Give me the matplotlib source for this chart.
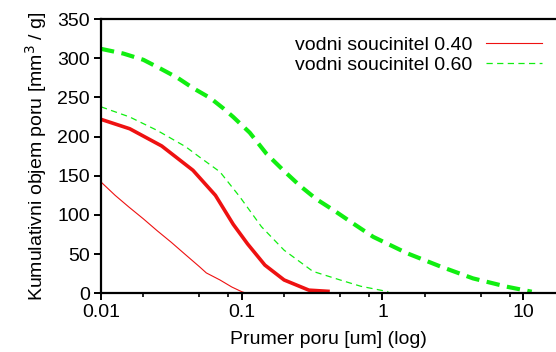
import matplotlib
matplotlib.use("Agg")
import matplotlib.pyplot as plt
from matplotlib.ticker import FixedLocator, NullFormatter

plt.rcParams['font.family'] = ['Liberation Sans', 'DejaVu Sans']

# pore diameter [um] vs cumulative pore volume [mm3/g]
x_040_thin = [0.01, 0.0126, 0.0158, 0.02, 0.025, 0.0316, 0.04, 0.05, 0.056, 0.07, 0.085, 0.1, 0.108]
y_040_thin = [142, 125, 110, 95, 80, 65, 49, 34, 26, 17, 8, 2, 0]

x_040_thick = [0.01, 0.016, 0.027, 0.045, 0.065, 0.087, 0.11, 0.146, 0.2, 0.3, 0.41]
y_040_thick = [222, 210, 188, 157, 125, 88, 63, 36, 17, 4, 2.5]

x_060_thin = [0.01, 0.016, 0.025, 0.04, 0.05, 0.07, 0.097, 0.138, 0.2, 0.32, 0.5, 0.7, 1.1]
y_060_thin = [238, 225, 208, 187, 174, 155, 123, 85, 55, 28, 17, 9, 2]

x_060_thick = [0.01, 0.0144, 0.02, 0.0263, 0.035, 0.045, 0.06, 0.074, 0.087, 0.114, 0.15,
               0.2, 0.26, 0.34, 0.45, 0.62, 0.86, 1.5, 2.6, 4.4, 7.6, 11.5]
y_060_thick = [312, 306, 298, 287, 275, 262, 249, 236, 225, 205, 178,
               156, 137, 120, 106, 89, 72, 51, 34, 19, 8.5, 2]

labels = ['vodni soucinitel 0.40', 'vodni soucinitel 0.60']
red = '#ee1111'
green = '#11ee11'
fs = 14

fig = plt.figure(figsize=(5.56, 3.52), dpi=100)
ax = fig.add_axes([0.1817, 0.1668, 0.8183, 0.779])

ax.plot(x_040_thin, y_040_thin, color=red, lw=0.8, label=labels[0])
ax.plot(x_040_thick, y_040_thick, color=red, lw=2.6)
ax.plot(x_060_thin, y_060_thin, color=green, lw=0.9, dashes=(5, 3.5), label=labels[1])
ax.plot(x_060_thick, y_060_thick, color=green, lw=3.0, dashes=(3.2, 1.8))

ax.set_xscale('log')
ax.set_xlim(0.01, 17.1)
ax.set_ylim(0, 350)

ax.xaxis.set_major_locator(FixedLocator([0.01, 0.1, 1, 10]))
ax.set_xticklabels(['0.01', '0.1', '1', '10'])
minor = [m * d for d in (0.01, 0.1, 1) for m in (2, 5, 8)]
ax.xaxis.set_minor_locator(FixedLocator(minor))
ax.xaxis.set_minor_formatter(NullFormatter())
ax.set_yticks(range(0, 351, 50))

for s in ('left', 'bottom', 'top'):
    ax.spines[s].set_linewidth(1.6)
ax.spines['right'].set_visible(False)
ax.tick_params(which='major', direction='out', length=5, width=1.4, labelsize=fs, pad=3)
ax.tick_params(which='minor', direction='out', length=3, width=1.2)

ax.set_xlabel('Prumer poru [um] (log)', fontsize=fs, labelpad=7)
ax.set_ylabel('Kumulativni objem poru [mm$^3$ / g]', fontsize=fs, labelpad=6)

ax.legend(loc='upper right', bbox_to_anchor=(1.008, 1.0), frameon=False, markerfirst=False,
          fontsize=fs, handlelength=2.9, labelspacing=0.12, handletextpad=0.7)

fig.savefig('out.png', dpi=100)
